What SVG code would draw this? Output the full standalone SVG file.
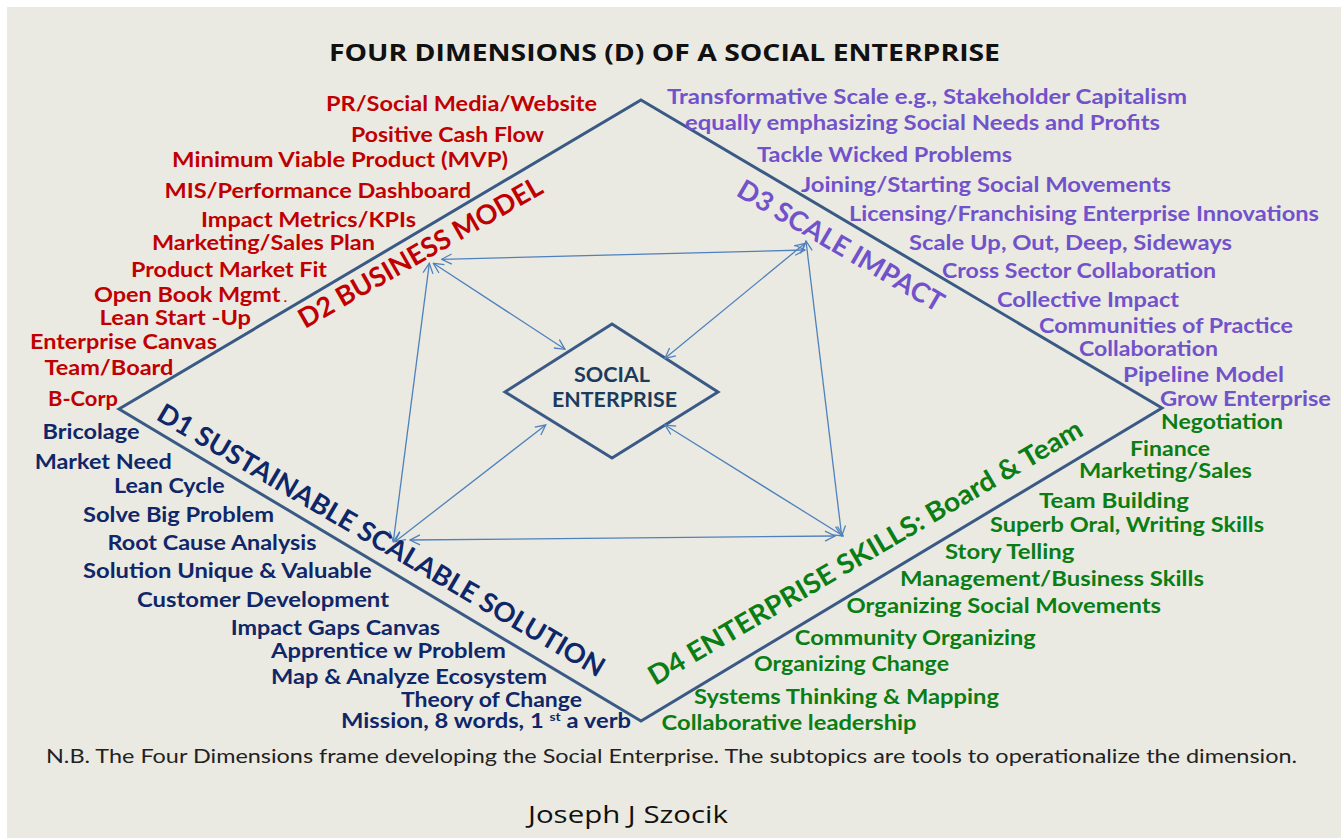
<svg xmlns="http://www.w3.org/2000/svg" width="1343" height="838" viewBox="0 0 1343 838">
<defs>
<style>
.bg{fill:#EBEAE2}
.frame{fill:none;stroke:#3A5A86;stroke-width:3;stroke-linejoin:miter}
.lbl{font-family:Lato,"Open Sans","Liberation Sans",sans-serif;font-weight:700;font-size:20.5px}
.dim{font-family:Lato,"Open Sans","Liberation Sans",sans-serif;font-weight:700;font-size:27px}
.red{fill:#C00000}
.pur{fill:#7152CB}
.nav{fill:#0F2768}
.grn{fill:#0A7D14}
.conn{fill:none;stroke:#4F81BD;stroke-width:1.3;marker-start:url(#ah);marker-end:url(#ah)}
</style>
<marker id="ah" viewBox="0 0 12 12" refX="11" refY="6" markerWidth="12" markerHeight="12" markerUnits="userSpaceOnUse" orient="auto-start-reverse">
<path d="M1,1 L11,6 L1,11" fill="none" stroke="#4F81BD" stroke-width="1.3"/>
</marker>
</defs>
<rect x="0" y="0" width="1343" height="838" fill="#FFFFFF"/>
<rect class="bg" x="7" y="7" width="1334" height="831"/>

<g id="title">
<text x="329" y="61" font-family="'Open Sans',Lato,sans-serif" font-weight="700" font-size="23.5" fill="#111" textLength="671" lengthAdjust="spacingAndGlyphs">FOUR DIMENSIONS (D) OF A SOCIAL ENTERPRISE</text>
</g>

<g id="outer-diamond">
<polygon class="frame" points="641,100 1162,408 641,721 119,409"/>
</g>

<g id="social-enterprise">
<polygon class="frame" points="612,324 718,392 612,458 505,392"/>
<text class="lbl" x="574" y="381.7" fill="#1B3A5C" textLength="76" lengthAdjust="spacingAndGlyphs">SOCIAL</text>
<text class="lbl" x="552" y="406.7" fill="#1B3A5C" textLength="125" lengthAdjust="spacingAndGlyphs">ENTERPRISE</text>
</g>

<g id="connectors">
<line class="conn" x1="441.7" y1="259.3" x2="805" y2="250"/>
<line class="conn" x1="429.3" y1="263.3" x2="393.3" y2="541.7"/>
<line class="conn" x1="806" y1="241" x2="841.7" y2="536"/>
<line class="conn" x1="410" y1="540" x2="835" y2="536"/>
<line class="conn" x1="433.3" y1="263.3" x2="565" y2="349.3"/>
<line class="conn" x1="805" y1="243.3" x2="665" y2="358.3"/>
<line class="conn" x1="395" y1="541.7" x2="545.7" y2="425"/>
<line class="conn" x1="665" y1="425" x2="843.3" y2="536"/>
</g>

<g id="d2-business-model">
<text class="dim red" transform="translate(305,329) rotate(-29.7)" textLength="276" lengthAdjust="spacingAndGlyphs">D2 BUSINESS MODEL</text>
<text class="lbl red" x="326" y="110.7" textLength="271" lengthAdjust="spacingAndGlyphs">PR/Social Media/Website</text>
<text class="lbl red" x="351" y="141.7" textLength="193" lengthAdjust="spacingAndGlyphs">Positive Cash Flow</text>
<text class="lbl red" x="172" y="167.3" textLength="336" lengthAdjust="spacingAndGlyphs">Minimum Viable Product (MVP)</text>
<text class="lbl red" x="164.5" y="198" textLength="306.5" lengthAdjust="spacingAndGlyphs">MIS/Performance Dashboard</text>
<text class="lbl red" x="201" y="226.7" textLength="215" lengthAdjust="spacingAndGlyphs">Impact Metrics/KPIs</text>
<text class="lbl red" x="152" y="249.5" textLength="223" lengthAdjust="spacingAndGlyphs">Marketing/Sales Plan</text>
<text class="lbl red" x="131" y="276.7" textLength="196" lengthAdjust="spacingAndGlyphs">Product Market Fit</text>
<text class="lbl red" x="94" y="301.7" textLength="193" lengthAdjust="spacingAndGlyphs">Open Book Mgmt<tspan font-size="12"> .</tspan></text>
<text class="lbl red" x="99.6" y="325" textLength="151.4" lengthAdjust="spacingAndGlyphs">Lean Start -Up</text>
<text class="lbl red" x="30" y="349" textLength="187" lengthAdjust="spacingAndGlyphs">Enterprise Canvas</text>
<text class="lbl red" x="44.4" y="375" textLength="129" lengthAdjust="spacingAndGlyphs">Team/Board</text>
<text class="lbl red" x="48" y="406" textLength="70" lengthAdjust="spacingAndGlyphs">B-Corp</text>
</g>

<g id="d3-scale-impact">
<text class="dim pur" transform="translate(735,195) rotate(30.2)" textLength="234" lengthAdjust="spacingAndGlyphs">D3 SCALE IMPACT</text>
<text class="lbl pur" x="667" y="104.3" textLength="520" lengthAdjust="spacingAndGlyphs">Transformative Scale e.g., Stakeholder Capitalism</text>
<text class="lbl pur" x="685" y="130" textLength="475" lengthAdjust="spacingAndGlyphs">equally emphasizing Social Needs and Profits</text>
<text class="lbl pur" x="757" y="161.7" textLength="255" lengthAdjust="spacingAndGlyphs">Tackle Wicked Problems</text>
<text class="lbl pur" x="801" y="191.7" textLength="370" lengthAdjust="spacingAndGlyphs">Joining/Starting Social Movements</text>
<text class="lbl pur" x="849" y="221" textLength="470" lengthAdjust="spacingAndGlyphs">Licensing/Franchising Enterprise Innovations</text>
<text class="lbl pur" x="909" y="250" textLength="323" lengthAdjust="spacingAndGlyphs">Scale Up, Out, Deep, Sideways</text>
<text class="lbl pur" x="942" y="278" textLength="274" lengthAdjust="spacingAndGlyphs">Cross Sector Collaboration</text>
<text class="lbl pur" x="997" y="307" textLength="182" lengthAdjust="spacingAndGlyphs">Collective Impact</text>
<text class="lbl pur" x="1039" y="333" textLength="254" lengthAdjust="spacingAndGlyphs">Communities of Practice</text>
<text class="lbl pur" x="1079" y="356" textLength="139" lengthAdjust="spacingAndGlyphs">Collaboration</text>
<text class="lbl pur" x="1123" y="381.7" textLength="161" lengthAdjust="spacingAndGlyphs">Pipeline Model</text>
<text class="lbl pur" x="1160" y="405.7" textLength="171" lengthAdjust="spacingAndGlyphs">Grow Enterprise</text>
</g>

<g id="d1-sustainable-scalable-solution">
<text class="dim nav" transform="translate(155,419) rotate(30.3)" textLength="513" lengthAdjust="spacingAndGlyphs">D1 SUSTAINABLE SCALABLE SOLUTION</text>
<text class="lbl nav" x="42.5" y="439.3" textLength="97" lengthAdjust="spacingAndGlyphs">Bricolage</text>
<text class="lbl nav" x="34.7" y="469.3" textLength="137" lengthAdjust="spacingAndGlyphs">Market Need</text>
<text class="lbl nav" x="114" y="493.3" textLength="110.6" lengthAdjust="spacingAndGlyphs">Lean Cycle</text>
<text class="lbl nav" x="83" y="521.7" textLength="191" lengthAdjust="spacingAndGlyphs">Solve Big Problem</text>
<text class="lbl nav" x="107.5" y="550" textLength="209" lengthAdjust="spacingAndGlyphs">Root Cause Analysis</text>
<text class="lbl nav" x="83" y="578.3" textLength="288.6" lengthAdjust="spacingAndGlyphs">Solution Unique &amp; Valuable</text>
<text class="lbl nav" x="137" y="606.7" textLength="252" lengthAdjust="spacingAndGlyphs">Customer Development</text>
<text class="lbl nav" x="230.7" y="635" textLength="209.3" lengthAdjust="spacingAndGlyphs">Impact Gaps Canvas</text>
<text class="lbl nav" x="271" y="658.3" textLength="235" lengthAdjust="spacingAndGlyphs">Apprentice w Problem</text>
<text class="lbl nav" x="271" y="684" textLength="276" lengthAdjust="spacingAndGlyphs">Map &amp; Analyze Ecosystem</text>
<text class="lbl nav" x="401" y="706.7" textLength="181" lengthAdjust="spacingAndGlyphs">Theory of Change</text>
<text class="lbl nav" x="341" y="728.3" textLength="290" lengthAdjust="spacingAndGlyphs">Mission, 8 words, 1 <tspan font-size="12" dy="-7">st</tspan><tspan dy="7"> a verb</tspan></text>
</g>

<g id="d4-enterprise-skills">
<text class="dim grn" transform="translate(655,686) rotate(-30.3)" textLength="498" lengthAdjust="spacingAndGlyphs">D4 ENTERPRISE SKILLS: Board &amp; Team</text>
<text class="lbl grn" x="1161" y="429.3" textLength="122" lengthAdjust="spacingAndGlyphs">Negotiation</text>
<text class="lbl grn" x="1130" y="456" textLength="80" lengthAdjust="spacingAndGlyphs">Finance</text>
<text class="lbl grn" x="1079" y="477.7" textLength="173" lengthAdjust="spacingAndGlyphs">Marketing/Sales</text>
<text class="lbl grn" x="1039" y="507.7" textLength="150" lengthAdjust="spacingAndGlyphs">Team Building</text>
<text class="lbl grn" x="990" y="532.3" textLength="274" lengthAdjust="spacingAndGlyphs">Superb Oral, Writing Skills</text>
<text class="lbl grn" x="945" y="559.3" textLength="129.5" lengthAdjust="spacingAndGlyphs">Story Telling</text>
<text class="lbl grn" x="900" y="585.7" textLength="304" lengthAdjust="spacingAndGlyphs">Management/Business Skills</text>
<text class="lbl grn" x="846.5" y="613.3" textLength="314.5" lengthAdjust="spacingAndGlyphs">Organizing Social Movements</text>
<text class="lbl grn" x="794.8" y="645" textLength="241" lengthAdjust="spacingAndGlyphs">Community Organizing</text>
<text class="lbl grn" x="754" y="671" textLength="195" lengthAdjust="spacingAndGlyphs">Organizing Change</text>
<text class="lbl grn" x="694" y="704.3" textLength="305" lengthAdjust="spacingAndGlyphs">Systems Thinking &amp; Mapping</text>
<text class="lbl grn" x="661.6" y="730" textLength="255" lengthAdjust="spacingAndGlyphs">Collaborative leadership</text>
</g>

<g id="footer">
<text x="46" y="763" font-family="Lato,'Liberation Sans',sans-serif" font-size="18.5" fill="#222" textLength="1251" lengthAdjust="spacingAndGlyphs">N.B. The Four Dimensions frame developing the Social Enterprise. The subtopics are tools to operationalize the dimension.</text>
<text x="528" y="823" font-family="'Open Sans',Lato,sans-serif" font-size="23" fill="#111" textLength="200" lengthAdjust="spacingAndGlyphs">Joseph J Szocik</text>
</g>
</svg>
